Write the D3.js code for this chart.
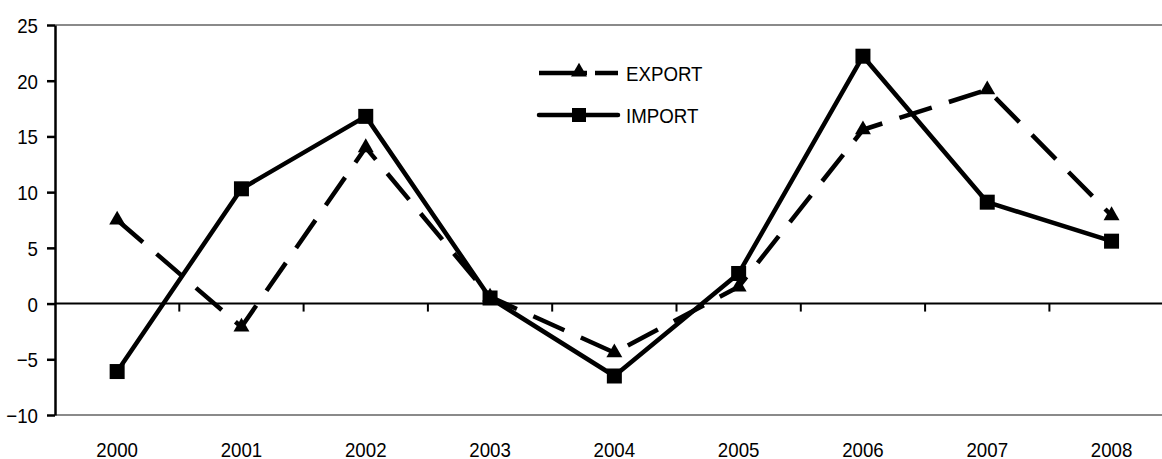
<!DOCTYPE html>
<html>
<head>
<meta charset="utf-8">
<script src="https://cdn.jsdelivr.net/npm/d3@7"></script>
<style>
  html, body { margin: 0; padding: 0; background: #fff; }
  svg { display: block; }
  text { font-family: "Liberation Sans", Arial, sans-serif; font-size: 21px; fill: #000; }
</style>
</head>
<body>
<svg id="chart" width="1162" height="459"></svg>
<script>
// Annual change, per cent
const years = ["2000", "2001", "2002", "2003", "2004", "2005", "2006", "2007", "2008"];
const exportValues = [7.5, -2.1, 14.0, 0.6, -4.4, 1.5, 15.6, 19.2, 7.9];
const importValues = [-6.1, 10.3, 16.8, 0.5, -6.5, 2.7, 22.2, 9.1, 5.6];
const yTicks = [-10, -5, 0, 5, 10, 15, 20, 25];

const svg = d3.select("#chart");
const W = 1162;
const plotLeft = 55, plotTop = 25, plotBottom = 415;
const bandW = 124.3;

const x = d3.scaleBand().domain(years).range([plotLeft, plotLeft + bandW * years.length]).padding(0);
const y = d3.scaleLinear().domain([-10, 25]).range([plotBottom, plotTop]);
const cx = d => x(d) + x.bandwidth() / 2;

// plot frame: grey top and bottom edges
svg.append("line").attr("x1", plotLeft).attr("x2", W).attr("y1", y(25)).attr("y2", y(25))
  .attr("stroke", "#8a8a8a").attr("stroke-width", 2);
svg.append("line").attr("x1", plotLeft).attr("x2", W).attr("y1", y(-10)).attr("y2", y(-10))
  .attr("stroke", "#8a8a8a").attr("stroke-width", 2);

// value axis
const yAxis = svg.append("g").attr("transform", `translate(${plotLeft},0)`)
  .call(d3.axisLeft(y).tickValues(yTicks).tickSize(8).tickSizeOuter(0).tickPadding(9));
yAxis.select(".domain").attr("stroke", "#000").attr("stroke-width", 2.5);
yAxis.selectAll(".tick line").attr("stroke", "#000").attr("stroke-width", 2.5);
yAxis.selectAll("text").attr("dy", "0.36em");
yAxis.attr("font-size", null).attr("font-family", null);

// category axis along zero, ticks between categories
const zeroAxis = svg.append("g").attr("transform", `translate(0,${y(0)})`);
zeroAxis.append("line").attr("x1", plotLeft).attr("x2", W).attr("stroke", "#000").attr("stroke-width", 2);
zeroAxis.selectAll("line.cat").data(years.slice(1)).join("line").attr("class", "cat")
  .attr("x1", d => x(d)).attr("x2", d => x(d)).attr("y1", 0).attr("y2", 8)
  .attr("stroke", "#000").attr("stroke-width", 2);

// category labels below the plot
const xAxis = svg.append("g").attr("transform", `translate(0,${plotBottom})`)
  .call(d3.axisBottom(x).tickSize(0).tickPadding(27));
xAxis.select(".domain").remove();
xAxis.attr("font-size", null).attr("font-family", null);

// series
const seriesLine = d3.line().x((d, i) => cx(years[i])).y(d => y(d));
svg.append("path").datum(exportValues).attr("d", seriesLine)
  .attr("fill", "none").attr("stroke", "#000").attr("stroke-width", 4.5)
  .attr("stroke-dasharray", "34,18").attr("stroke-linejoin", "round");
svg.append("path").datum(importValues).attr("d", seriesLine)
  .attr("fill", "none").attr("stroke", "#000").attr("stroke-width", 4.5)
  .attr("stroke-linejoin", "round");

const tri = d3.symbol().type(d3.symbolTriangle).size(110);
svg.selectAll("path.exp").data(exportValues).join("path").attr("class", "exp")
  .attr("d", tri).attr("transform", (d, i) => `translate(${cx(years[i])},${y(d)})`).attr("fill", "#000");
svg.selectAll("rect.imp").data(importValues).join("rect").attr("class", "imp")
  .attr("x", (d, i) => cx(years[i]) - 7.5).attr("y", d => y(d) - 7.5)
  .attr("width", 15).attr("height", 15).attr("fill", "#000");

// legend
const legend = svg.append("g");
legend.append("line").attr("x1", 539).attr("x2", 618).attr("y1", 73).attr("y2", 73)
  .attr("stroke", "#000").attr("stroke-width", 4.5).attr("stroke-dasharray", "48,8,23");
legend.append("path").attr("d", tri).attr("transform", "translate(579,72)").attr("fill", "#000");
legend.append("text").attr("x", 626).attr("y", 81).text("EXPORT");
legend.append("line").attr("x1", 539).attr("x2", 618).attr("y1", 115).attr("y2", 115)
  .attr("stroke", "#000").attr("stroke-width", 4.5).attr("stroke-linecap", "round");
legend.append("rect").attr("x", 572).attr("y", 108).attr("width", 14).attr("height", 14).attr("fill", "#000");
legend.append("text").attr("x", 626).attr("y", 123).text("IMPORT");

// narrow the lettering horizontally
svg.selectAll("text").each(function () {
  const len = this.getComputedTextLength();
  d3.select(this).attr("textLength", len * 0.89).attr("lengthAdjust", "spacingAndGlyphs");
});
</script>
</body>
</html>
